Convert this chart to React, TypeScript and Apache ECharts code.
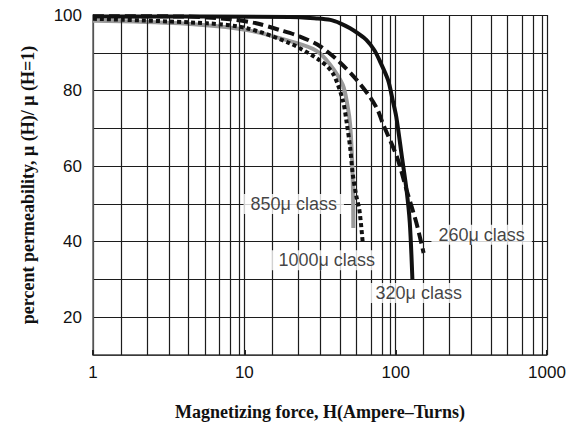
import React, { useEffect, useRef } from "react";
import * as echarts from "echarts";

// Curves: [H (Ampere-Turns), percent permeability]
const solid320: [number, number][] = [
  [1, 99.6], [20, 99.5], [30, 99.1], [37, 98.7], [43, 97.8], [50, 96.5], [57, 95], [64, 93.4],
  [72, 90.8], [78, 88.1], [89, 82.8], [95.5, 77.5], [101, 73], [110, 62.4], [118, 53.7],
  [124, 45], [129, 30],
];
const dashed260: [number, number][] = [
  [1, 99.7], [4, 99.6], [8, 98.9], [12, 97.8], [17.2, 96], [23.3, 94.3], [31.5, 91.8],
  [42.7, 87.5], [55.3, 82.8], [67.4, 78.4], [76, 74.9], [82, 71.4], [102, 62.4], [118, 53.7],
  [137, 45], [153, 37],
];
const gray850: [number, number][] = [
  [1, 98.5], [3.75, 97.8], [10.4, 96], [22, 92.6], [30, 90.5], [36.7, 87], [44.7, 81.5],
  [48.2, 75.7], [50, 71], [51.5, 62], [52.3, 52], [52.5, 43.6],
];
const dotted1000: [number, number][] = [
  [1, 99], [5.7, 97.8], [10.4, 96.5], [20, 92.5], [31.5, 88], [38.4, 84.6], [44.7, 77.5],
  [47.5, 71.4], [50, 65], [52, 58], [55, 52], [57.6, 48.4], [60.5, 40],
];

const curveLabels: [number, number, string][] = [
  [21.2, 50, "850\u03bc class"],
  [35, 35.1, "1000\u03bc class"],
  [370, 41.8, "260\u03bc class"],
  [142, 26.4, "320\u03bc class"],
];

// Vertical grid lines as drawn in the original (per decade multipliers)
const minorGridMultipliers = [1.53, 2.27, 3.17, 4.28, 5.48, 6.85, 8.13, 9.27];
const decades = [1, 10, 100];

const yTickLabels = [20, 40, 60, 80, 100];

export default function App() {
  const ref = useRef<HTMLDivElement>(null);
  useEffect(() => {
    document.body.style.margin = "0";
    const chart = echarts.init(ref.current!, null, { renderer: "svg" });
    const gridX: number[] = [];
    decades.forEach((d) => minorGridMultipliers.forEach((m) => gridX.push(+(d * m).toFixed(3))));
    const lineColor = "#1c1c1c";
    chart.setOption({
      animation: false,
      backgroundColor: "#fff",
      grid: { left: 93, right: 23, top: 15, bottom: 75 },
      xAxis: {
        type: "log",
        logBase: 10,
        min: 1,
        max: 1000,
        name: "Magnetizing force, H(Ampere\u2013Turns)",
        nameLocation: "middle",
        nameGap: 48,
        nameTextStyle: { fontFamily: "Liberation Serif", fontWeight: "bold", fontSize: 18, color: "#111" },
        axisLine: { show: true, lineStyle: { color: "#444", width: 1.5 } },
        axisTick: { show: true, inside: true, length: 5, lineStyle: { color: "#222", width: 2 } },
        axisLabel: {
          fontFamily: "Liberation Sans",
          fontSize: 17,
          color: "#111",
          margin: 9,
          formatter: (v: number) => String(v),
        },
        splitLine: { show: true, lineStyle: { color: lineColor, width: 1.2 } },
        minorSplitLine: { show: false },
      },
      yAxis: {
        type: "value",
        min: 10,
        max: 100,
        interval: 10,
        name: "percent permeability, \u03bc (H)/ \u03bc (H=1)",
        nameLocation: "middle",
        nameGap: 56,
        nameTextStyle: { fontFamily: "Liberation Serif", fontWeight: "bold", fontSize: 18, color: "#111" },
        axisLine: { show: true, lineStyle: { color: "#666", width: 1.5 } },
        axisTick: { show: false },
        axisLabel: {
          fontFamily: "Liberation Sans",
          fontSize: 17,
          color: "#111",
          margin: 11,
          formatter: (v: number) => (yTickLabels.includes(v) ? String(v) : ""),
        },
        splitLine: { show: true, lineStyle: { color: lineColor, width: 1.2 } },
      },
      series: [
        {
          type: "line",
          data: [],
          z: 1,
          silent: true,
          markLine: {
            silent: true,
            symbol: "none",
            label: { show: false },
            lineStyle: { color: lineColor, width: 1.2, type: "solid" },
            data: gridX.map((x) => ({ xAxis: x })),
          },
        },
        {
          name: "850",
          type: "line",
          data: gray850,
          smooth: 0.3,
          showSymbol: false,
          z: 3,
          lineStyle: { color: "#9a9a9a", width: 4 },
        },
        {
          name: "1000",
          type: "line",
          data: dotted1000,
          smooth: 0.3,
          showSymbol: false,
          z: 4,
          lineStyle: { color: "#111", width: 4, type: [4, 3] },
        },
        {
          name: "260",
          type: "line",
          data: dashed260,
          smooth: 0.3,
          showSymbol: false,
          z: 4,
          lineStyle: { color: "#111", width: 4, type: [11, 5] },
        },
        {
          name: "320",
          type: "line",
          data: solid320,
          smooth: 0.3,
          showSymbol: false,
          z: 5,
          lineStyle: { color: "#111", width: 4 },
        },
        {
          type: "scatter",
          data: curveLabels,
          symbolSize: 1,
          z: 10,
          itemStyle: { color: "transparent" },
          label: {
            show: true,
            position: "inside",
            formatter: (p: any) => p.value[2],
            fontFamily: "Liberation Sans",
            fontSize: 18,
            color: "#111",
            backgroundColor: "#fff",
            padding: [1, 7],
          },
        },
      ],
    });
    return () => chart.dispose();
  }, []);
  return <div ref={ref} style={{ position: "fixed", left: 0, top: 0, width: 570, height: 430 }} />;
}
